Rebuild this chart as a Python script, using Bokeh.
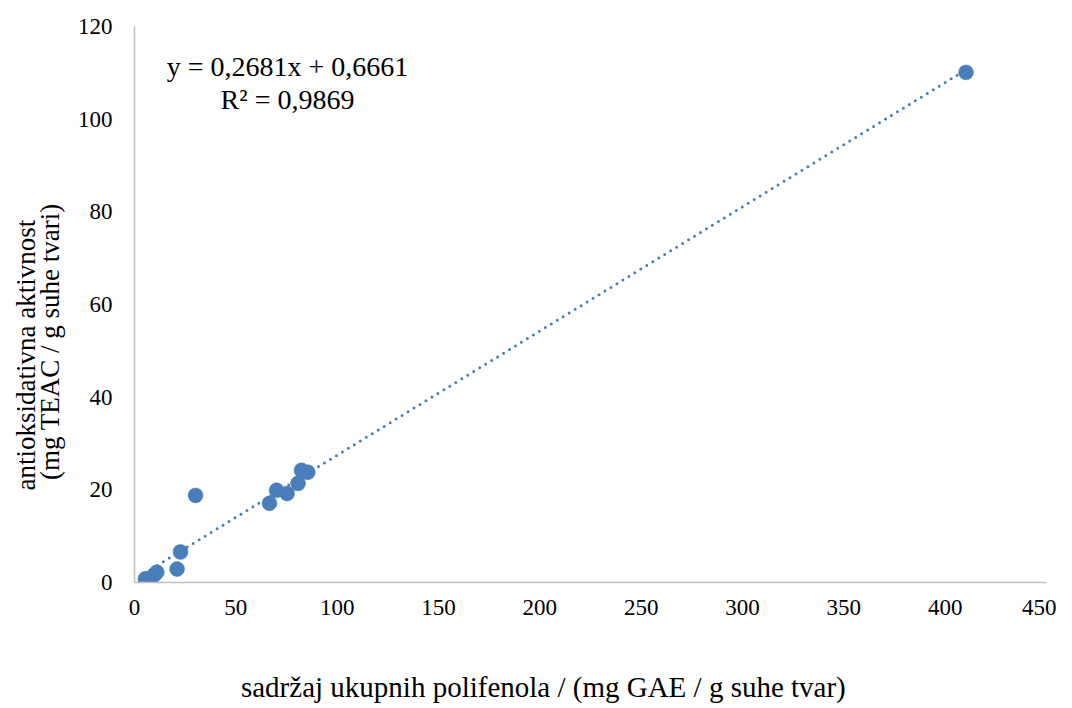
from bokeh.plotting import figure
from bokeh.models import ColumnDataSource, Label, FixedTicker, Range1d, LinearAxis
from bokeh.embed import file_html
from bokeh.resources import INLINE

# data
polifenoli = [5.4, 9.6, 11.0, 21.0, 22.7, 30.1, 66.6, 70.1, 75.3, 80.7, 82.4, 85.5, 410.3]
aktivnost = [0.8, 1.6, 2.2, 2.9, 6.6, 18.8, 17.1, 19.9, 19.2, 21.4, 24.2, 23.8, 110.1]
slope = 0.2681
intercept = 0.6661
eq_text = "y = 0,2681x + 0,6661"
r2_text = "R² = 0,9869"
x_ticks = [0, 50, 100, 150, 200, 250, 300, 350, 400, 450]
y_ticks = [0, 20, 40, 60, 80, 100, 120]
x_title = "sadržaj ukupnih polifenola / (mg GAE / g suhe tvar)"
y_title_1 = "antioksidativna aktivnost"
y_title_2 = "(mg TEAC / g suhe tvari)"

FONT = "Liberation Serif"
BLUE = "#4A7EBB"
NB = "\u00a0"  # invisible padding that moves the centred titles off-centre, as in the original

p = figure(width=1056, height=708, output_backend="svg", toolbar_location=None,
           x_range=Range1d(0, 450), y_range=Range1d(0, 120),
           min_border_left=134, min_border_right=10, min_border_top=26, min_border_bottom=126)
p.outline_line_color = None
p.grid.visible = False

for ax in (p.xaxis[0], p.yaxis[0]):
    ax.axis_line_color = "#BFBFBF"
    ax.axis_line_width = 1.5
    ax.major_tick_line_color = None
    ax.minor_tick_line_color = None
    ax.major_label_text_font = FONT
    ax.major_label_text_font_size = "23px"
    ax.major_label_text_color = "#000000"

p.xaxis.ticker = FixedTicker(ticks=x_ticks)
p.yaxis.ticker = FixedTicker(ticks=y_ticks)
p.xaxis.major_label_standoff = 11
p.yaxis.major_label_standoff = 16

# title axes: no line, no ticks, only the axis title
x_title_axis = LinearAxis(axis_label=x_title + NB * 13, ticker=FixedTicker(ticks=[]),
                          axis_line_color=None, major_tick_line_color=None,
                          minor_tick_line_color=None, major_label_standoff=0,
                          axis_label_standoff=53, axis_label_text_font=FONT,
                          axis_label_text_font_size="29px", axis_label_text_font_style="normal",
                          axis_label_text_color="#000000")
p.add_layout(x_title_axis, "below")

y_title_axis = LinearAxis(axis_label=y_title_1 + NB * 15 + "\n" + y_title_2 + NB * 11,
                          ticker=FixedTicker(ticks=[]),
                          axis_line_color=None, major_tick_line_color=None,
                          minor_tick_line_color=None, major_label_standoff=0,
                          axis_label_standoff=10, axis_label_text_font=FONT,
                          axis_label_text_font_size="27px", axis_label_text_font_style="normal",
                          axis_label_text_color="#000000", axis_label_text_line_height=0.8)
p.add_layout(y_title_axis, "left")

# trendline over the data range
x0, x1 = min(polifenoli), max(polifenoli)
trend = ColumnDataSource(dict(x=[x0, x1], y=[slope * x0 + intercept, slope * x1 + intercept]))
p.line("x", "y", source=trend, line_color=BLUE, line_width=3, line_dash="0 7", line_cap="round")

src = ColumnDataSource(dict(x=polifenoli, y=aktivnost))
p.scatter("x", "y", source=src, size=15, fill_color=BLUE, line_color=BLUE, line_width=0.5)

p.add_layout(Label(x=75.5, y=111.3, text=eq_text, text_font=FONT, text_font_size="28px",
                   text_align="center", text_baseline="middle", text_color="#000000"))
p.add_layout(Label(x=75.5, y=104.2, text=r2_text, text_font=FONT, text_font_size="28px",
                   text_align="center", text_baseline="middle", text_color="#000000"))

open("out.html", "w").write(file_html(p, INLINE))
